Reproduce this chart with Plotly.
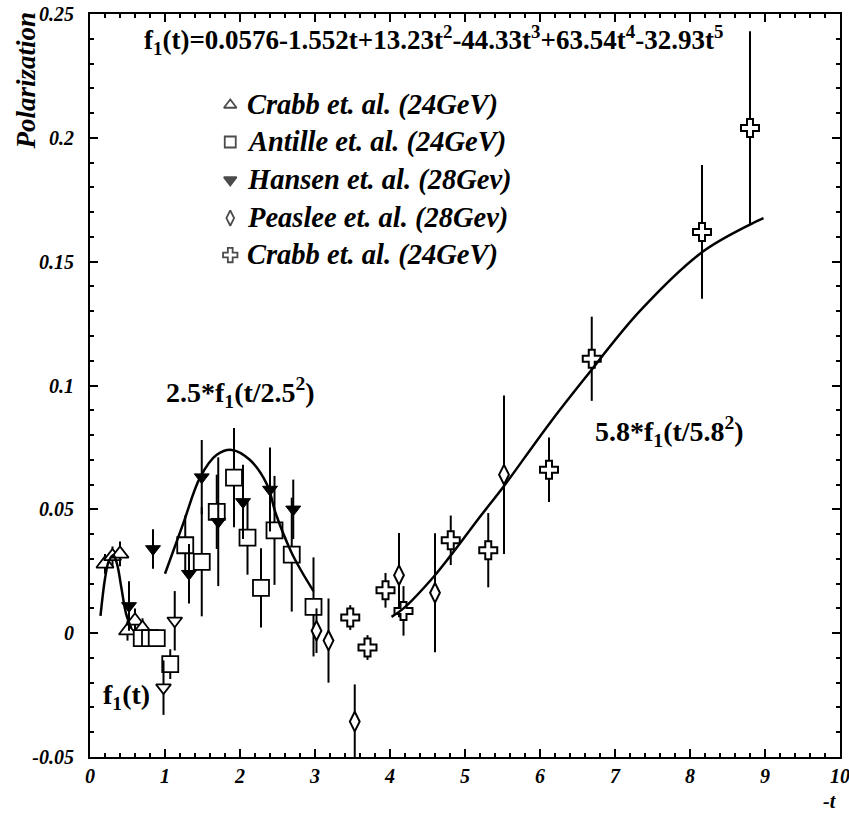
import plotly.graph_objects as go

# ---- measured data: -t and polarization with errors ----
crabb_lo_t = [0.2, 0.3, 0.4, 0.5, 0.6, 0.7]
crabb_lo_p = [0.028, 0.031, 0.032, 0.001, 0.005, 0.002]
crabb_lo_e = [0.004, 0.004, 0.005, 0.004, 0.005, 0.004]

antille_t = [0.69, 0.80, 0.89, 1.07, 1.27, 1.49, 1.69, 1.92, 2.10, 2.28, 2.46, 2.69, 2.98]
antille_p = [-0.002, -0.002, -0.002, -0.0125, 0.0355, 0.0288, 0.049, 0.0628, 0.0386, 0.0183, 0.0415, 0.0317, 0.0106]
antille_e = [0.002, 0.002, 0.002, 0.006, 0.012, 0.022, 0.015, 0.020, 0.015, 0.016, 0.022, 0.023, 0.020]

hansen_t = [0.52, 0.84, 1.32, 1.49, 1.71, 2.04, 2.40, 2.71]
hansen_p = [0.011, 0.034, 0.024, 0.063, 0.045, 0.053, 0.058, 0.050]
hansen_e = [0.010, 0.008, 0.012, 0.015, 0.026, 0.015, 0.017, 0.012]

hansen_neg_t = [0.98, 1.13]
hansen_neg_p = [-0.022, 0.005]
hansen_neg_e = [0.011, 0.012]

peaslee_t = [3.02, 3.18, 3.53, 4.12, 4.60, 5.52]
peaslee_p = [0.001, -0.003, -0.0357, 0.0234, 0.0163, 0.064]
peaslee_e = [0.009, 0.017, 0.015, 0.017, 0.024, 0.032]

crabb_hi_t = [3.47, 3.70, 3.94, 4.18, 4.81, 5.31, 6.12, 6.69, 8.16, 8.80]
crabb_hi_p = [0.0063, -0.0058, 0.0173, 0.009, 0.0375, 0.0335, 0.066, 0.1108, 0.162, 0.204]
crabb_hi_e = [0.005, 0.005, 0.007, 0.010, 0.010, 0.015, 0.013, 0.017, 0.027, 0.039]

# ---- fitted curves ----
fit1_t = [0.14, 0.20, 0.25, 0.31, 0.36, 0.42, 0.48, 0.55]
fit1_p = [0.007, 0.022, 0.029, 0.0315, 0.028, 0.018, 0.008, 0.002]

fit2_t = [1.00, 1.24, 1.47, 1.69, 1.89, 2.13, 2.36, 2.48, 2.68, 2.82, 2.98]
fit2_p = [0.024, 0.044, 0.063, 0.072, 0.074, 0.070, 0.060, 0.048, 0.033, 0.025, 0.017]

fit3_t = [4.02, 4.18, 4.58, 4.80, 5.20, 5.51, 6.11, 6.60, 7.33, 8.16, 8.80, 8.98]
fit3_p = [0.0066, 0.010, 0.0227, 0.031, 0.047, 0.059, 0.084, 0.103, 0.130, 0.1538, 0.165, 0.1676]

x_ticks = [0, 1, 2, 3, 4, 5, 6, 7, 8, 9, 10]
y_ticks = [-0.05, 0, 0.05, 0.1, 0.15, 0.2, 0.25]
y_tick_text = ["-0.05", "0", "0.05", "0.1", "0.15", "0.2", "0.25"]

series_names = ["Crabb et. al. (24GeV)", "Antille et. al. (24GeV)", "Hansen et. al. (28Gev)",
                "Peaslee et. al. (28Gev)", "Crabb et. al. (24GeV)"]

SERIF = "Liberation Serif, Times New Roman, serif"
BLACK = "black"

# marker style per series: symbol, size, fill, outline width
styles = [
    ("triangle-up", 15, "white", 1.8),
    ("square", 16, "white", 1.8),
    ("triangle-down", 13, BLACK, 1),
    ("diamond-tall", 14, "white", 2.0),
    ("cross", 15, "white", 2.0),
]


def err(values):
    return dict(type="data", array=values, visible=True, color=BLACK,
                thickness=2, width=0)


fig = go.Figure()

data_sets = [
    (crabb_lo_t, crabb_lo_p, crabb_lo_e),
    (antille_t, antille_p, antille_e),
    (hansen_t, hansen_p, hansen_e),
    (peaslee_t, peaslee_p, peaslee_e),
    (crabb_hi_t, crabb_hi_p, crabb_hi_e),
]

for name, (tx, py, pe), (sym, size, fill, lw) in zip(series_names, data_sets, styles):
    fig.add_trace(go.Scatter(
        x=tx, y=py, mode="markers", name=name, showlegend=False,
        error_y=err(pe),
        marker=dict(symbol=sym, size=size, color=fill, line=dict(color=BLACK, width=lw)),
    ))

fig.add_trace(go.Scatter(
    x=hansen_neg_t, y=hansen_neg_p, mode="markers", showlegend=False,
    name="Hansen et. al. (28Gev)", error_y=err(hansen_neg_e),
    marker=dict(symbol="triangle-down", size=13, color="white",
                line=dict(color=BLACK, width=1.8)),
))

for tx, py in [(fit1_t, fit1_p), (fit2_t, fit2_p), (fit3_t, fit3_p)]:
    fig.add_trace(go.Scatter(x=tx, y=py, mode="lines", showlegend=False,
                             line=dict(color=BLACK, width=2.5, shape="spline")))

# key: symbols on an overlay frame in plot-fraction units, text as annotations
key_x = 0.187
key_text_x = 0.207
key_y = [0.8775, 0.8277, 0.7766, 0.7254, 0.6756]
fig.add_trace(go.Scatter(
    x=[key_x] * len(key_y), y=key_y, xaxis="x2", yaxis="y2", mode="markers",
    showlegend=False, hoverinfo="skip",
    marker=dict(symbol=[s[0] for s in styles], size=[11, 11, 11, 11, 12],
                color=[s[2] for s in styles], line=dict(color=BLACK, width=1.8)),
))

axis_common = dict(
    showline=True, linecolor=BLACK, linewidth=2, mirror="allticks",
    ticks="inside", ticklen=8, tickwidth=1.5, tickcolor=BLACK,
    showgrid=False, zeroline=False, ticklabeloverflow="allow", automargin=False,
    tickfont=dict(family=SERIF, size=20, color=BLACK, weight="bold", style="italic"),
)

fig.update_xaxes(range=[0, 10], tickvals=x_ticks, ticktext=[str(v) for v in x_ticks],
                 minor=dict(dtick=0.2, ticks="inside", ticklen=4, tickcolor=BLACK),
                 ticklabelstandoff=0, **axis_common)
fig.update_yaxes(range=[-0.05, 0.25], tickvals=y_ticks, ticktext=y_tick_text,
                 minor=dict(dtick=0.01, ticks="inside", ticklen=4, tickcolor=BLACK),
                 ticklabelstandoff=10, **axis_common)

bold = dict(family=SERIF, size=28, color=BLACK, weight="bold")
bold_italic = dict(family=SERIF, size=28.5, color=BLACK, weight="bold", style="italic")
annotations = [
    dict(text="Polarization", x=-0.086, y=1.0054, xref="paper", yref="paper",
         textangle=-90, xanchor="center", yanchor="top",
         font=dict(family=SERIF, size=27, color=BLACK, weight="bold", style="italic")),
    dict(text="-t", x=0.999, y=-0.059, xref="paper", yref="paper",
         xanchor="right", yanchor="middle",
         font=dict(family=SERIF, size=20, color=BLACK, weight="bold", style="italic")),
    dict(text="f<sub>1</sub>(t)=0.0576-1.552t+13.23t<sup>2</sup>-44.33t<sup>3</sup>"
              "+63.54t<sup>4</sup>-32.93t<sup>5</sup>",
         x=0.458, y=0.965, xref="paper", yref="paper", yanchor="middle",
         font=dict(family=SERIF, size=27, color=BLACK, weight="bold")),
    dict(text="2.5*f<sub>1</sub>(t/2.5<sup>2</sup>)", x=2.01, y=0.097, font=bold),
    dict(text="5.8*f<sub>1</sub>(t/5.8<sup>2</sup>)", x=7.72, y=0.0816, font=bold),
    dict(text="f<sub>1</sub>(t)", x=0.48, y=-0.0255, font=bold),
]
for name, yk in zip(series_names, key_y):
    annotations.append(dict(text=name, x=key_text_x, y=yk, xref="paper", yref="paper",
                            xanchor="left", yanchor="middle", font=bold_italic))
for a in annotations:
    a.setdefault("showarrow", False)

fig.update_layout(
    annotations=annotations,
    width=849, height=814,
    margin=dict(l=90, r=9, t=14, b=57, autoexpand=False),
    paper_bgcolor="white", plot_bgcolor="white",
    showlegend=False,
    xaxis2=dict(overlaying="x", range=[0, 1], visible=False),
    yaxis2=dict(overlaying="y", range=[0, 1], visible=False),
)

fig.write_html("out.html")
